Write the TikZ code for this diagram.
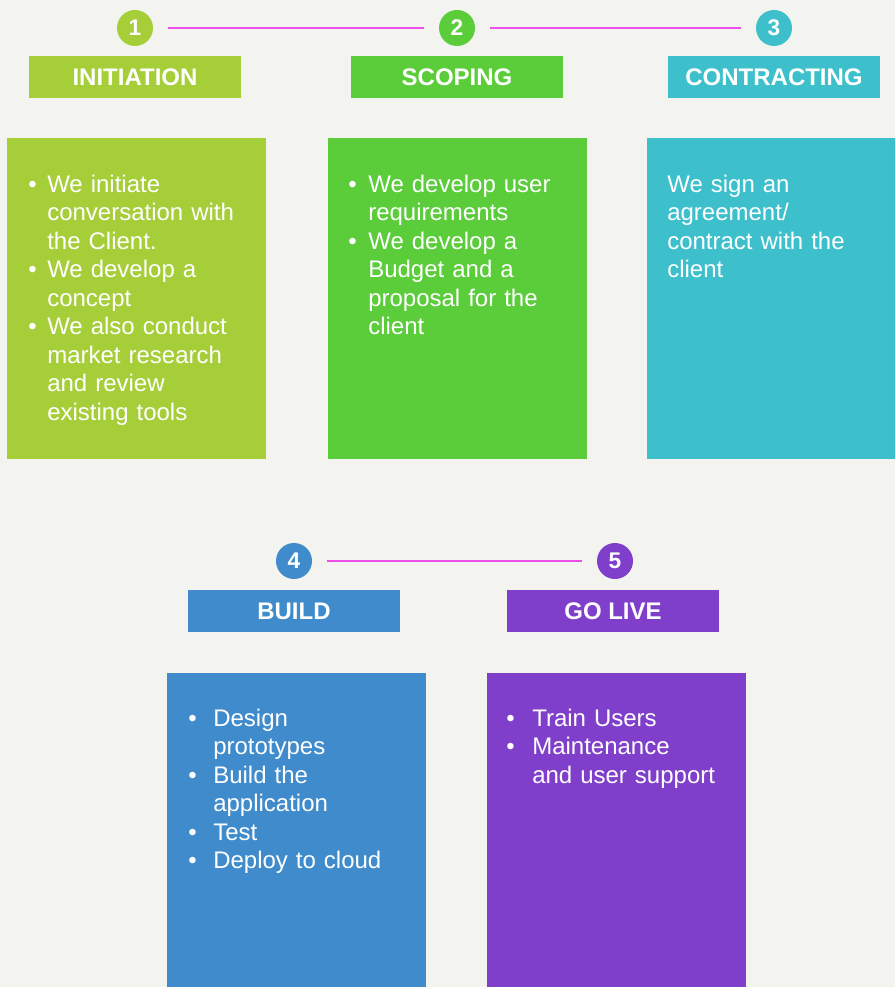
\documentclass[tikz,border=0pt]{standalone}
\usepackage{fontspec}
\setmainfont{Liberation Sans}
\usetikzlibrary{positioning}
\definecolor{bg}{HTML}{F3F3EF}
\definecolor{cini}{HTML}{A6CE39}
\definecolor{cscp}{HTML}{5BCC3A}
\definecolor{ccon}{HTML}{3DC0CC}
\definecolor{cbld}{HTML}{3F8BCB}
\definecolor{clive}{HTML}{7F3FCB}
\definecolor{linkc}{HTML}{EE4FEA}
\newlength{\bulind}
\newcommand{\bul}[1]{\hangindent=\bulind\hangafter=1\noindent\strut\makebox[\bulind][l]{\textbullet}#1\par}
\tikzset{
  num/.style={circle, fill=#1, minimum size=27pt, inner sep=0pt, text=white,
    font=\fontsize{17}{20}\selectfont\bfseries},
  phase/.style={fill=#1, minimum width=159pt, minimum height=31.5pt, inner sep=0pt,
    text=white, font=\fontsize{18}{21.4}\selectfont\bfseries},
  panel/.style={fill=#1, anchor=north west, inner sep=0pt, minimum width=194.25pt},
  blurb/.style={anchor=north west, inner sep=0pt, text=white, text width=180pt,
    align=left, font=\fontsize{18}{21.4}\selectfont},
  joint/.style={draw=linkc, line width=1.1pt, shorten <=11pt, shorten >=11pt},
}

\begin{document}
\begin{tikzpicture}[x=0.75pt, y=-0.75pt]
  \fill[bg] (0,0) rectangle (895,987);
  \useasboundingbox (0,0) rectangle (895,987);
  % steps
  \node[num=cini]  (num1) at (135,28) {1};
  \node[num=cscp]  (num2) at (457,28) {2};
  \node[num=ccon]  (num3) at (774,28) {3};
  \node[num=cbld]  (num4) at (294,561) {4};
  \node[num=clive] (num5) at (615,561) {5};
  \draw[joint] (num1) -- (num2);
  \draw[joint] (num2) -- (num3);
  \draw[joint] (num4) -- (num5);
  % titles
  \node[phase=cini]  (ttl1) at (135,77) {INITIATION};
  \node[phase=cscp]  (ttl2) at (457,77) {SCOPING};
  \node[phase=ccon]  (ttl3) at (774,77) {CONTRACTING};
  \node[phase=cbld]  (ttl4) at (294,611) {BUILD};
  \node[phase=clive] (ttl5) at (613,611) {GO LIVE};
  % panels
  \node[panel=cini, minimum height=240.75pt]  (box1) at (7,138) {};
  \node[panel=cscp, minimum height=240.75pt]  (box2) at (328,138) {};
  \node[panel=ccon, minimum height=240.75pt, minimum width=186pt] (box3) at (647,138) {};
  \node[panel=cbld, minimum height=235.5pt]   (box4) at (167,673) {};
  \node[panel=clive, minimum height=235.5pt]  (box5) at (487,673) {};
  % 1
  \node[blurb] (txt1) at (28,172) {\setlength{\bulind}{14.25pt}%
    \bul{We initiate\newline conversation with\newline the Client.}%
    \bul{We develop a\newline concept}%
    \bul{We also conduct\newline market research\newline and review\newline existing tools}};
  % 2
  \node[blurb] (txt2) at (348,172) {\setlength{\bulind}{15pt}%
    \bul{We develop user\newline requirements}%
    \bul{We develop a\newline Budget and a\newline proposal for the\newline client}};
  % 3
  \node[blurb] (txt3) at (667,172) {\strut We sign an\newline agreement/\newline contract with the\newline client};
  % 4
  \node[blurb] (txt4) at (188,706) {\setlength{\bulind}{18.75pt}%
    \bul{Design\newline prototypes}%
    \bul{Build the\newline application}%
    \bul{Test}%
    \bul{Deploy to cloud}};
  % 5
  \node[blurb] (txt5) at (506,706) {\setlength{\bulind}{19.5pt}%
    \bul{Train Users}%
    \bul{Maintenance\newline and user support}};
\end{tikzpicture}
\end{document}
